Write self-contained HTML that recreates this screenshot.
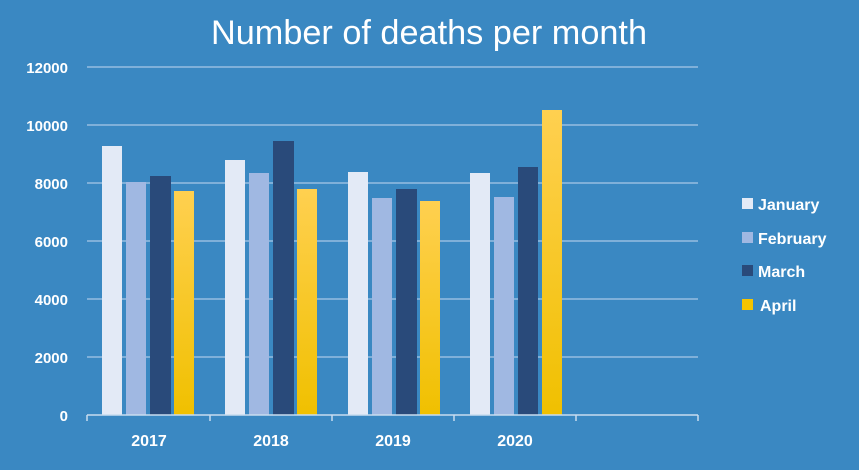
<!DOCTYPE html>
<html><head><meta charset="utf-8"><style>
html,body{margin:0;padding:0;background:#3a88c2;}
svg{display:block;font-family:"Liberation Sans",sans-serif;}
</style></head><body>
<svg width="859" height="470" viewBox="0 0 859 470" xmlns="http://www.w3.org/2000/svg">
<defs>
<linearGradient id="g" x1="0" y1="0" x2="0" y2="1"><stop offset="0" stop-color="#ffd050"/><stop offset="1" stop-color="#f0c000"/></linearGradient>
</defs>
<rect width="859" height="470" fill="#3a88c2"/>
<text x="429" y="44" text-anchor="middle" fill="#fff" font-size="34" textLength="436" lengthAdjust="spacingAndGlyphs">Number of deaths per month</text>
<g stroke="#7fb0d9" stroke-width="2">
<line x1="87" x2="698" y1="67" y2="67"/><line x1="87" x2="698" y1="125" y2="125"/>
<line x1="87" x2="698" y1="183" y2="183"/><line x1="87" x2="698" y1="241" y2="241"/>
<line x1="87" x2="698" y1="299" y2="299"/><line x1="87" x2="698" y1="357" y2="357"/>
</g>
<g fill="#fff" font-size="15" font-weight="bold" text-anchor="end">
<text x="68" y="73">12000</text><text x="68" y="131">10000</text><text x="68" y="189">8000</text>
<text x="68" y="247">6000</text><text x="68" y="305">4000</text><text x="68" y="363">2000</text><text x="68" y="421">0</text>
</g>
<g>
<rect x="102" y="146" width="20" height="269" fill="#e3eaf6"/>
<rect x="126" y="182" width="20" height="233" fill="#a0b8e2"/>
<rect x="150" y="176" width="21" height="239" fill="#294a7a"/>
<rect x="174" y="191" width="20" height="224" fill="url(#g)"/>
<rect x="225" y="160" width="20" height="255" fill="#e3eaf6"/>
<rect x="249" y="173" width="20" height="242" fill="#a0b8e2"/>
<rect x="273" y="141" width="21" height="274" fill="#294a7a"/>
<rect x="297" y="189" width="20" height="226" fill="url(#g)"/>
<rect x="348" y="172" width="20" height="243" fill="#e3eaf6"/>
<rect x="372" y="198" width="20" height="217" fill="#a0b8e2"/>
<rect x="396" y="189" width="21" height="226" fill="#294a7a"/>
<rect x="420" y="201" width="20" height="214" fill="url(#g)"/>
<rect x="470" y="173" width="20" height="242" fill="#e3eaf6"/>
<rect x="494" y="197" width="20" height="218" fill="#a0b8e2"/>
<rect x="518" y="167" width="20" height="248" fill="#294a7a"/>
<rect x="542" y="110" width="20" height="305" fill="url(#g)"/>
</g>
<g stroke="#c8dcef" stroke-width="1.5">
<line x1="87" x2="698" y1="415" y2="415"/>
<line x1="87" x2="87" y1="415" y2="421"/><line x1="210" x2="210" y1="415" y2="421"/>
<line x1="332" x2="332" y1="415" y2="421"/><line x1="454" x2="454" y1="415" y2="421"/>
<line x1="576" x2="576" y1="415" y2="421"/><line x1="698" x2="698" y1="415" y2="421"/>
</g>
<g fill="#fff" font-size="16" font-weight="bold" text-anchor="middle">
<text x="149" y="446">2017</text><text x="271" y="446">2018</text><text x="393" y="446">2019</text><text x="515" y="446">2020</text>
</g>
<g font-size="16" font-weight="bold" fill="#fff">
<rect x="742" y="198" width="11" height="11" fill="#e3eaf6"/><text x="758" y="210">January</text>
<rect x="742" y="232" width="11" height="11" fill="#a0b8e2"/><text x="758" y="244">February</text>
<rect x="742" y="265" width="11" height="11" fill="#294a7a"/><text x="758" y="277">March</text>
<rect x="742" y="299" width="11" height="11" fill="#f5c400"/><text x="760" y="311">April</text>
</g>
</svg>
</body></html>
